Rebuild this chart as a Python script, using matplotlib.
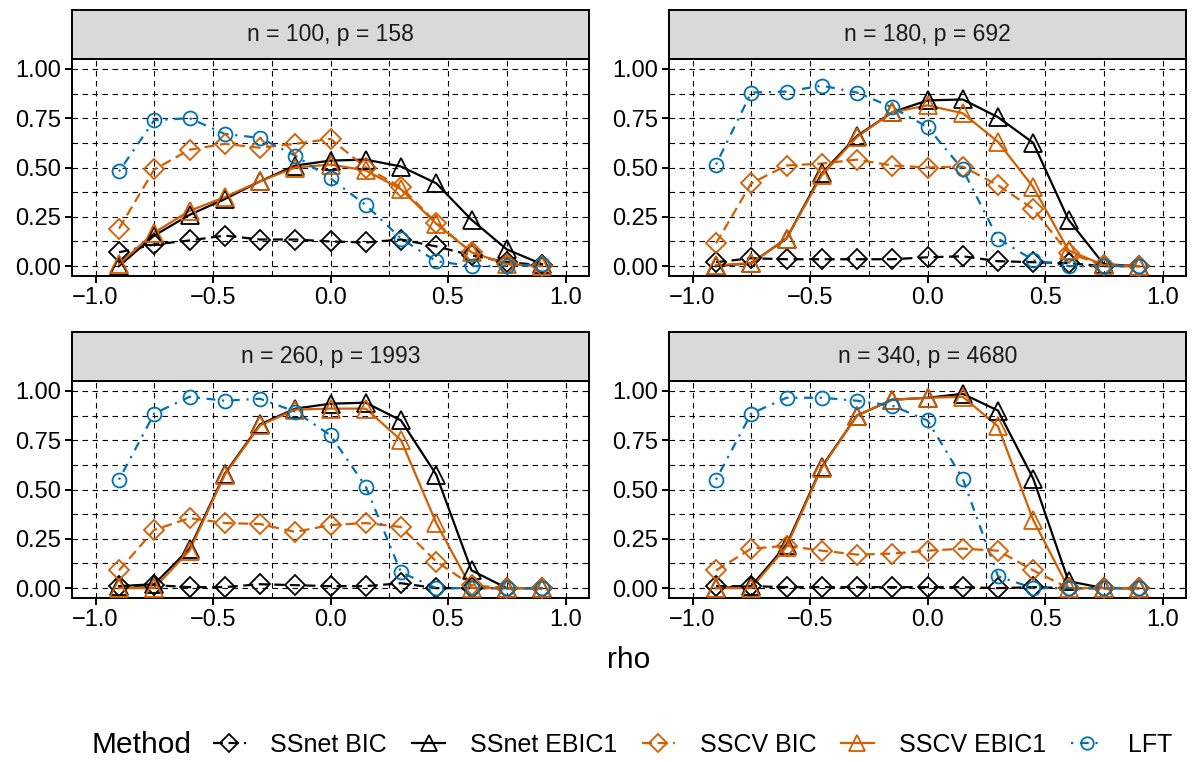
import numpy as np
import matplotlib
matplotlib.use("Agg")
import matplotlib.pyplot as plt
from matplotlib.lines import Line2D
from matplotlib.ticker import FixedLocator

plt.rcParams['font.family'] = ['Liberation Sans', 'DejaVu Sans']

rho = [-0.9, -0.75, -0.6, -0.45, -0.3, -0.15, 0.0, 0.15, 0.3, 0.45, 0.6, 0.75, 0.9]
panel_titles = ["n = 100, p = 158", "n = 180, p = 692", "n = 260, p = 1993", "n = 340, p = 4680"]
methods = ["SSnet BIC", "SSnet EBIC1", "SSCV BIC", "SSCV EBIC1", "LFT"]

# one list per panel, in panel order
ssnet_bic = [
    [0.07, 0.11, 0.13, 0.155, 0.135, 0.135, 0.125, 0.12, 0.135, 0.10, 0.055, 0.02, 0.005],
    [0.02, 0.04, 0.035, 0.035, 0.035, 0.035, 0.045, 0.05, 0.025, 0.02, 0.015, 0.0, 0.0],
    [0.01, 0.015, 0.005, 0.005, 0.02, 0.015, 0.01, 0.01, 0.025, 0.0, 0.0, 0.0, 0.0],
    [0.01, 0.01, 0.005, 0.005, 0.005, 0.005, 0.005, 0.005, 0.0, 0.005, 0.0, 0.0, 0.0],
]
ssnet_ebic1 = [
    [0.0, 0.155, 0.26, 0.34, 0.43, 0.51, 0.535, 0.54, 0.505, 0.42, 0.235, 0.085, 0.01],
    [0.0, 0.015, 0.14, 0.47, 0.66, 0.78, 0.84, 0.845, 0.755, 0.625, 0.235, 0.01, 0.0],
    [0.01, 0.02, 0.2, 0.58, 0.83, 0.91, 0.935, 0.94, 0.85, 0.575, 0.09, 0.0, 0.0],
    [0.0, 0.01, 0.22, 0.615, 0.875, 0.955, 0.965, 0.985, 0.90, 0.555, 0.035, 0.0, 0.0],
]
sscv_bic = [
    [0.19, 0.49, 0.59, 0.62, 0.60, 0.62, 0.645, 0.50, 0.40, 0.22, 0.07, 0.01, 0.0],
    [0.115, 0.42, 0.51, 0.52, 0.54, 0.51, 0.50, 0.505, 0.41, 0.29, 0.065, 0.005, 0.0],
    [0.09, 0.295, 0.355, 0.33, 0.325, 0.285, 0.32, 0.33, 0.31, 0.135, 0.015, 0.0, 0.0],
    [0.09, 0.20, 0.215, 0.19, 0.17, 0.175, 0.19, 0.20, 0.19, 0.09, 0.0, 0.0, 0.0],
]
sscv_ebic1 = [
    [0.01, 0.17, 0.28, 0.35, 0.43, 0.50, 0.515, 0.485, 0.39, 0.215, 0.07, 0.01, 0.0],
    [0.005, 0.015, 0.14, 0.46, 0.655, 0.78, 0.815, 0.775, 0.63, 0.40, 0.08, 0.005, 0.0],
    [0.0, 0.0, 0.19, 0.575, 0.825, 0.905, 0.91, 0.91, 0.75, 0.33, 0.0, 0.0, 0.0],
    [0.0, 0.0, 0.21, 0.61, 0.875, 0.955, 0.965, 0.97, 0.82, 0.345, 0.0, 0.0, 0.0],
]
lft = [
    [0.48, 0.74, 0.75, 0.67, 0.65, 0.56, 0.445, 0.31, 0.14, 0.025, 0.0, 0.0, 0.01],
    [0.515, 0.88, 0.885, 0.915, 0.88, 0.805, 0.705, 0.49, 0.14, 0.03, 0.0, 0.0, 0.0],
    [0.55, 0.885, 0.97, 0.95, 0.96, 0.895, 0.775, 0.515, 0.08, 0.0, 0.0, 0.0, 0.0],
    [0.55, 0.885, 0.965, 0.965, 0.95, 0.925, 0.85, 0.555, 0.06, 0.0, 0.0, 0.0, 0.0],
]

series = [ssnet_bic, ssnet_ebic1, sscv_bic, sscv_ebic1, lft]
colors = ["black", "black", "#D55E00", "#D55E00", "#0072B2"]
markers = ["D", "^", "D", "^", "o"]
msizes = [10.5, 13, 10.5, 13, 10]
dashes = [(4.5, 2.5), None, (4.5, 2.5), None, (1, 3, 4, 3)]

fig = plt.figure(figsize=(11.92, 7.62), dpi=100)

W, H = 1192, 762
cols = [(72, 589), (669, 1186)]
rows = [(10, 59, 276), (332, 381, 598)]   # strip top, panel top, panel bottom


def fx(px):
    return px / W


def fy(py):
    return 1 - py / H


def fmt_minus(v, nd):
    return f"{v:.{nd}f}".replace("-", "\u2212")


lw = 1.6
for k in range(4):
    r, c = divmod(k, 2)
    x0, x1 = cols[c]
    st, pt, pb = rows[r]
    ax = fig.add_axes([fx(x0), fy(pb), fx(x1 - x0), (pb - pt) / H])
    sax = fig.add_axes([fx(x0), fy(pt), fx(x1 - x0), (pt - st) / H])

    # strip
    sax.set_facecolor("#D9D9D9")
    sax.set_xticks([])
    sax.set_yticks([])
    for s in sax.spines.values():
        s.set_linewidth(1.4)
    sax.text(0.5, 0.5, panel_titles[k], ha="center", va="center",
             fontsize=16.5, color="#1A1A1A", transform=sax.transAxes)

    ax.set_xlim(-1.1, 1.1)
    ax.set_ylim(-0.05, 1.05)
    xt = [-1.0, -0.5, 0.0, 0.5, 1.0]
    yt = [0.0, 0.25, 0.5, 0.75, 1.0]
    ax.set_xticks(xt)
    ax.set_xticklabels([fmt_minus(v, 1) for v in xt])
    ax.set_yticks(yt)
    ax.set_yticklabels([fmt_minus(v, 2) for v in yt])
    ax.xaxis.set_minor_locator(FixedLocator([-0.75, -0.25, 0.25, 0.75]))
    ax.yaxis.set_minor_locator(FixedLocator([0.125, 0.375, 0.625, 0.875]))
    ax.tick_params(which="major", length=5, width=1.4, labelsize=17, color="black", pad=3)
    ax.tick_params(which="minor", length=0)
    ax.grid(True, which="both", color="black", lw=0.8, ls=(0, (5, 4)), zorder=0)
    ax.set_axisbelow(True)
    for s in ax.spines.values():
        s.set_linewidth(1.4)

    for i in range(5):
        y = series[i][k]
        ln, = ax.plot(rho, y, color=colors[i], lw=lw, zorder=2)
        if dashes[i] is not None:
            ln.set_dashes(dashes[i])
    for i in range(5):
        y = series[i][k]
        ax.plot(rho, y, ls="none", marker=markers[i], ms=msizes[i], mfc="none",
                mec=colors[i], mew=1.3, zorder=3)

fig.text(fx((72 + 1186) / 2), fy(660), "rho", ha="center", va="center", fontsize=21.5)

handles = []
for i in range(5):
    h = Line2D([], [], color=colors[i], lw=lw, marker=markers[i], ms=msizes[i] * 0.9,
               mfc="none", mec=colors[i], mew=1.3)
    if dashes[i] is not None:
        h.set_dashes(dashes[i])
    handles.append(h)

fig.text(fx(92), fy(745), "Method", ha="left", va="center", fontsize=21.5)
fig.legend(handles, methods, loc="center left", bbox_to_anchor=(fx(213), fy(745)),
           ncol=5, frameon=False, fontsize=18, handlelength=1.3, handletextpad=1.0,
           columnspacing=1.0, borderaxespad=0, borderpad=0)

fig.savefig("out.png", dpi=100)
